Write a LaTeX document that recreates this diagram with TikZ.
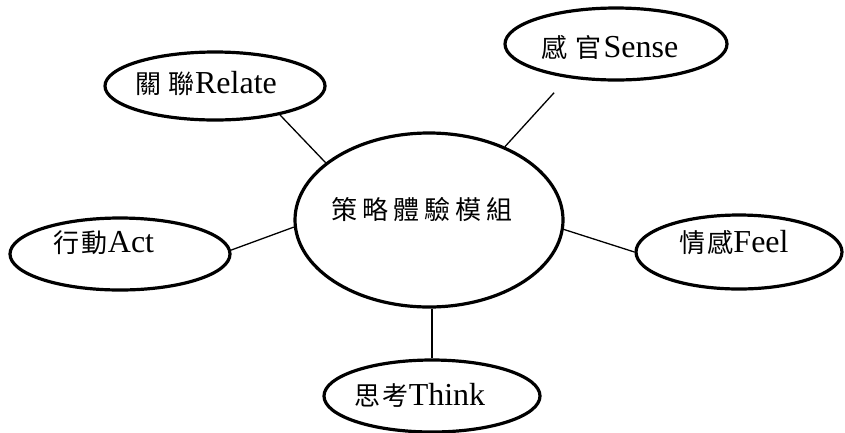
\documentclass[tikz,border=0pt]{standalone}
\usepackage{fontspec}
\setmainfont{Liberation Serif}
\newfontfamily\cjk{Noto Sans CJK TC}
\usetikzlibrary{shapes.geometric}
\tikzset{
  ell/.style={ellipse, draw=black, line width=3.2pt, inner sep=0pt, fill=white},
  lbl/.style={inner sep=0pt, font=\fontsize{32}{35}\selectfont},
  conn/.style={draw=black, line width=1.3pt}
}
\newcommand{\cj}[1]{{\cjk\fontsize{26}{30}\selectfont #1}}
\begin{document}
\begin{tikzpicture}[x=1pt,y=-1pt]
\useasboundingbox (0,0) rectangle (845,432);
\node[ell, minimum width=268pt, minimum height=174pt] (c) at (429,220) {};
\node[ell, minimum width=222pt, minimum height=72pt] (sen) at (616,44) {};
\node[ell, minimum width=220pt, minimum height=68pt] (rel) at (215,86) {};
\node[ell, minimum width=220pt, minimum height=72pt] (act) at (120,254) {};
\node[ell, minimum width=206pt, minimum height=74pt] (feel) at (739,252) {};
\node[ell, minimum width=216pt, minimum height=72pt] (think) at (432,396) {};

\node[lbl] (ct) at (422,210) {\cj{策\hspace{5pt}略\hspace{5pt}體\hspace{5pt}驗\hspace{5pt}模\hspace{5pt}組}};
\node[lbl] (sent) at (610,47) {\cj{感\hspace{8pt}官}\hspace{2pt}Sense};
\node[lbl] (relt) at (206,84) {\cj{關\hspace{7pt}聯}\hspace{1pt}Relate};
\node[lbl] (actt) at (104,243) {\cj{行\hspace{2pt}動}Act};
\node[lbl] (feelt) at (734,243) {\cj{情\hspace{2pt}感}Feel};
\node[lbl] (thinkt) at (420,395) {\cj{思\hspace{2pt}考}Think};

\draw[conn] (rel.-24) -- (c.151);
\draw[conn, shorten <=20pt] (sen.-145) -- (c.44);
\draw[conn] (act.2) -- (c.183);
\draw[conn] (c.-4) -- (feel.west);
\draw[conn] (think.north) -- (think.north |- c.south);
\end{tikzpicture}
\end{document}
